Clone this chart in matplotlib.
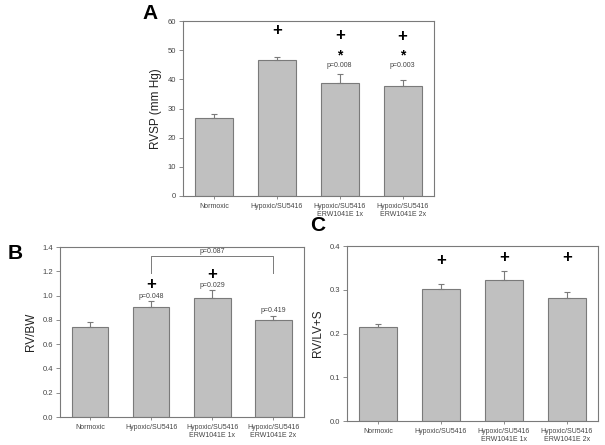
import matplotlib.pyplot as plt
import numpy as np

plt.rcParams['font.family'] = ['Liberation Sans', 'DejaVu Sans']

groups = ['Normoxic', 'Hypoxic/SU5416', 'Hypoxic/SU5416\nERW1041E 1x', 'Hypoxic/SU5416\nERW1041E 2x']

rvsp = [26.8, 46.7, 38.9, 37.8]
rvsp_err = [1.2, 1.0, 3.0, 2.0]
rvsp_plus = [None, 56.9, 55.2, 54.7]
rvsp_star = [None, None, 48.2, 48.2]
rvsp_p = [None, None, 'p=0.008', 'p=0.003']
rvsp_ticks = [0, 10, 20, 30, 40, 50, 60]

rvbw = [0.74, 0.91, 0.98, 0.80]
rvbw_err = [0.04, 0.045, 0.07, 0.035]
rvbw_plus = [None, 1.09, 1.17, None]
rvbw_p = [None, 'p=0.048', 'p=0.029', 'p=0.419']
rvbw_p_y = [None, 0.99, 1.08, 0.88]
rvbw_ticks = [0.0, 0.2, 0.4, 0.6, 0.8, 1.0, 1.2, 1.4]

rvlv = [0.216, 0.302, 0.322, 0.282]
rvlv_err = [0.005, 0.011, 0.022, 0.012]
rvlv_plus = [None, 0.367, 0.375, 0.373]
rvlv_ticks = [0.0, 0.1, 0.2, 0.3, 0.4]

bar_col = '#c0c0c0'
edge_col = '#7a7a7a'
txt_col = '#444444'


def bar_panel(ax, vals, errs, ticks, fmt, ylabel):
    x = np.arange(len(vals))
    ax.bar(x, vals, width=0.6, color=bar_col, edgecolor=edge_col, linewidth=0.8, zorder=2)
    ax.errorbar(x, vals, yerr=[np.zeros(len(errs)), errs], fmt='none',
                ecolor=edge_col, elinewidth=0.8, capsize=2.5, capthick=0.8, zorder=3)
    ax.set_xlim(-0.49, 3.5)
    ax.set_ylim(ticks[0], ticks[-1])
    ax.set_yticks(ticks)
    ax.set_yticklabels([fmt.format(t) for t in ticks])
    ax.set_xticks(x)
    ax.set_xticklabels(groups)
    ax.tick_params(axis='y', direction='out', length=3, width=0.6, labelsize=5.5,
                   colors=edge_col, labelcolor=txt_col, pad=2)
    ax.tick_params(axis='x', direction='out', length=2, width=0.6, labelsize=5,
                   colors=edge_col, labelcolor=txt_col, pad=3)
    for s in ax.spines.values():
        s.set_color(edge_col)
        s.set_linewidth(0.8)
    ax.set_ylabel(ylabel, fontsize=8.5, color='#222222')
    return x


fig = plt.figure(figsize=(6.05, 4.45), dpi=100)

# Panel A
axA = fig.add_axes([0.3025, 0.5596, 0.415, 0.393])
x = bar_panel(axA, rvsp, rvsp_err, rvsp_ticks, '{:d}', 'RVSP (mm Hg)')
for i in x:
    if rvsp_plus[i] is not None:
        axA.text(i, rvsp_plus[i], '+', ha='center', va='center', fontsize=12, fontweight='bold')
    if rvsp_star[i] is not None:
        axA.text(i, rvsp_star[i], '*', ha='center', va='center', fontsize=10, fontweight='bold')
    if rvsp_p[i] is not None:
        axA.text(i, 44.8, rvsp_p[i], ha='center', va='center', fontsize=5, color=txt_col)
fig.text(0.236, 0.97, 'A', fontsize=15, fontweight='bold', va='center')

# Panel B
axB = fig.add_axes([0.0992, 0.0629, 0.403, 0.382])
x = bar_panel(axB, rvbw, rvbw_err, rvbw_ticks, '{:.1f}', 'RV/BW')
for i in x:
    if rvbw_plus[i] is not None:
        axB.text(i, rvbw_plus[i], '+', ha='center', va='center', fontsize=12, fontweight='bold')
    if rvbw_p[i] is not None:
        axB.text(i, rvbw_p_y[i], rvbw_p[i], ha='center', va='center', fontsize=5, color=txt_col)
axB.plot([1, 1, 3, 3], [1.19, 1.33, 1.33, 1.19], color=edge_col, linewidth=0.7)
axB.text(2, 1.36, 'p=0.087', ha='center', va='center', fontsize=5, color=txt_col)
fig.text(0.012, 0.43, 'B', fontsize=15, fontweight='bold', va='center')

# Panel C
axC = fig.add_axes([0.5736, 0.0539, 0.415, 0.393])
x = bar_panel(axC, rvlv, rvlv_err, rvlv_ticks, '{:.1f}', 'RV/LV+S')
for i in x:
    if rvlv_plus[i] is not None:
        axC.text(i, rvlv_plus[i], '+', ha='center', va='center', fontsize=12, fontweight='bold')
fig.text(0.513, 0.493, 'C', fontsize=15, fontweight='bold', va='center')

fig.savefig('out.png', dpi=100)
